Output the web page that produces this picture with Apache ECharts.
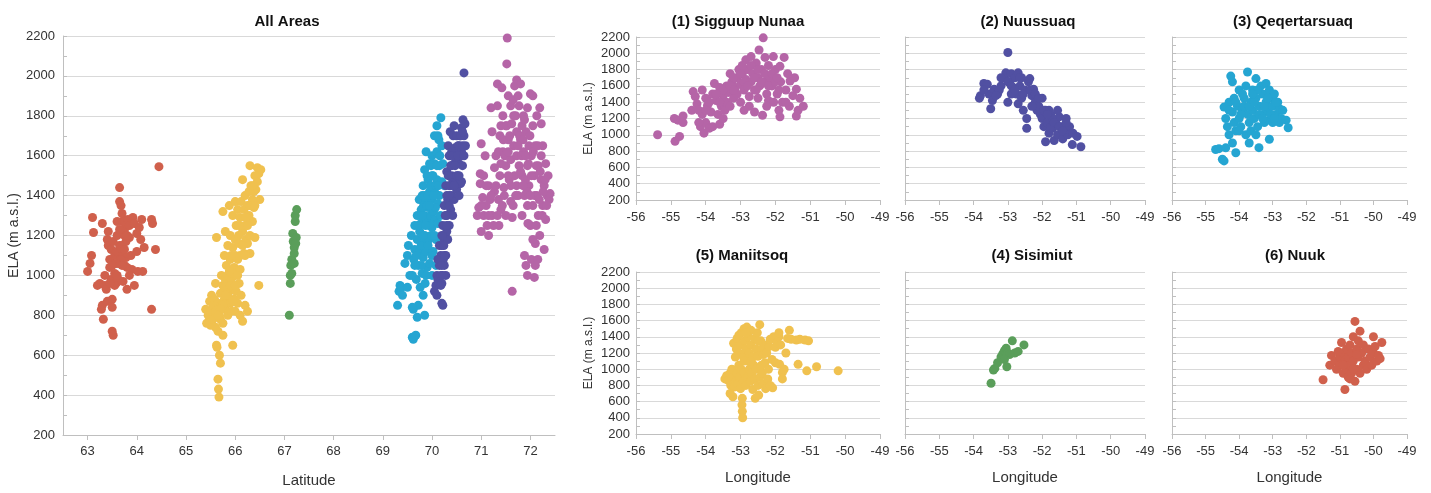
<!DOCTYPE html>
<html><head><meta charset="utf-8">
<script src="https://cdn.jsdelivr.net/npm/echarts/dist/echarts.min.js"></script>
<style>html,body{margin:0;padding:0;background:#fff}#c{width:1431px;height:493px}</style>
</head><body><div id="c"></div>
<script>
// ---------- tick labels ----------
const latTicks = [63, 64, 65, 66, 67, 68, 69, 70, 71, 72];
const titles = ['All Areas', '(1) Sigguup Nunaa', '(2) Nuussuaq', '(3) Qeqertarsuaq', '(5) Maniitsoq', '(4) Sisimiut', '(6) Nuuk'];

// ---------- Latitude vs ELA (All Areas) ----------
const nuukLat = [[63.0,1020],[63.05,1060],[63.08,1100],[63.1,1290],[63.12,1215],[63.2,950],[63.25,960],[63.28,830],[63.3,850],[63.32,780],[63.35,1000],[63.35,950],[63.38,930],[63.4,1180],[63.42,1220],[63.42,1150],[63.45,1080],[63.45,1040],[63.48,1130],[63.48,980],[63.5,880],[63.5,840],[63.5,720],[63.52,700],[63.52,1170],[63.55,1100],[63.55,1010],[63.58,960],[63.6,1120],[63.6,1270],[63.62,1060],[63.62,980],[63.65,1440],[63.65,1370],[63.68,1350],[63.7,1310],[63.7,1270],[63.7,1150],[63.72,1100],[63.72,970],[63.75,1270],[63.75,1230],[63.75,1200],[63.78,1170],[63.78,1090],[63.8,1040],[63.8,930],[63.82,1280],[63.85,1250],[63.85,1190],[63.88,1100],[63.9,1030],[63.92,1290],[63.95,1260],[63.95,950],[64.0,1210],[64.0,1120],[64.02,1020],[64.05,1240],[64.08,1180],[64.1,1280],[64.12,1020],[64.15,1140],[64.3,1280],[64.32,1260],[64.3,830],[64.38,1130],[64.45,1545],[63.3,1260],[63.6,1200],[63.65,1230],[63.68,1080],[63.75,1050],[63.55,950],[63.6,1000],[63.65,1150],[63.7,1050],[63.75,1130],[63.8,1200],[63.58,1060],[63.5,1050],[63.45,960],[63.85,1000],[63.4,870]];
const maniitsoqLat = [[65.40,830],[65.42,760],[65.45,800],[65.48,870],[65.5,820],[65.5,750],[65.52,900],[65.55,780],[65.55,850],[65.58,880],[65.6,820],[65.6,960],[65.62,1190],[65.62,650],[65.63,640],[65.65,860],[65.65,720],[65.65,480],[65.66,430],[65.67,390],[65.68,600],[65.7,560],[65.7,780],[65.7,910],[65.72,1000],[65.72,850],[65.75,950],[65.75,1320],[65.75,760],[65.78,1100],[65.78,880],[65.8,1220],[65.8,980],[65.8,830],[65.82,1050],[65.82,900],[65.85,1150],[65.85,1000],[65.85,800],[65.88,1350],[65.88,920],[65.9,1200],[65.9,1080],[65.9,860],[65.92,980],[65.92,820],[65.95,1300],[65.95,1140],[65.95,940],[65.95,650],[65.98,1040],[65.98,880],[66.0,1370],[66.0,1180],[66.0,1000],[66.0,820],[66.02,1250],[66.02,920],[66.05,1330],[66.05,1080],[66.05,860],[66.08,1160],[66.08,960],[66.1,1290],[66.1,1030],[66.1,800],[66.12,1370],[66.12,900],[66.15,1480],[66.15,1220],[66.15,770],[66.18,1330],[66.18,1110],[66.2,1400],[66.2,1250],[66.2,850],[66.22,1180],[66.25,1350],[66.25,1160],[66.25,820],[66.28,1420],[66.28,1300],[66.3,1550],[66.3,1200],[66.3,1110],[66.32,1450],[66.35,1380],[66.35,1270],[66.38,1420],[66.38,1340],[66.4,1500],[66.4,1190],[66.42,1430],[66.45,1540],[66.45,1470],[66.48,1510],[66.48,950],[66.5,1380],[66.52,1530],[65.6,740],[65.75,700],[65.95,1010],[66.07,1200],[66.22,1290],[65.88,1020],[65.68,800],[65.78,940],[65.85,900],[65.9,950],[65.95,870],[66.0,950],[66.05,1000],[66.1,1100],[66.15,1150],[66.2,1100],[66.25,1250],[66.3,1350],[65.8,900],[65.75,850],[65.7,830],[65.65,800],[66.35,1450],[66.4,1350],[66.0,1100],[65.92,1100],[66.08,1250]];
const sisimiutLat = [[67.1,800],[67.12,960],[67.12,1000],[67.13,1050],[67.15,1080],[67.15,1010],[67.17,1210],[67.18,1170],[67.2,1140],[67.2,1110],[67.22,1270],[67.22,1300],[67.25,1330],[67.24,1190],[67.23,1160],[67.2,1060]];
const qeqertarsuaqLat = [[69.3,850],[69.33,920],[69.35,950],[69.38,940],[69.4,900],[69.45,1060],[69.5,1100],[69.52,1150],[69.55,1000],[69.58,1200],[69.6,690],[69.62,680],[69.62,830],[69.63,1080],[69.65,1250],[69.65,1130],[69.67,700],[69.68,980],[69.7,1180],[69.7,1300],[69.7,790],[69.72,850],[69.72,1050],[69.74,1380],[69.75,1220],[69.75,1120],[69.76,940],[69.78,1330],[69.78,1260],[69.8,1400],[69.8,1160],[69.8,1010],[69.82,1450],[69.82,1090],[69.84,1300],[69.85,1530],[69.85,1200],[69.86,960],[69.88,1620],[69.88,1380],[69.88,1120],[69.9,1270],[69.9,1040],[69.92,1480],[69.92,1340],[69.93,1180],[69.95,1560],[69.95,1420],[69.95,1060],[69.97,1300],[69.98,1200],[70.0,1600],[70.0,1380],[70.0,1240],[70.0,1000],[70.02,1500],[70.02,1120],[70.03,1320],[70.05,1700],[70.05,1560],[70.05,1420],[70.06,1280],[70.08,1180],[70.08,1050],[70.1,1750],[70.1,1620],[70.1,1480],[70.12,1360],[70.12,1260],[70.14,1680],[70.15,1550],[70.15,1400],[70.17,1300],[70.18,1790],[70.2,1650],[70.2,1470],[70.22,1560],[70.25,1450],[69.85,800],[69.6,840],[69.5,940],[69.78,1150],[69.98,1450],[70.07,1340],[69.9,1500],[70.0,1100],[69.95,1250],[69.83,1350],[70.12,1700],[69.72,1250],[69.75,1300],[69.8,1300],[69.82,1200],[69.85,1400],[69.87,1250],[69.9,1350],[69.92,1400],[69.95,1350],[69.98,1550],[70.0,1500],[70.03,1400],[70.05,1200],[70.08,1450],[70.1,1550],[70.13,1450],[70.16,1600],[69.78,1050],[69.82,900],[69.88,1000],[69.92,1150],[69.68,1100],[69.6,1000],[69.65,1050]];
const nuussuaqLat = [[70.05,920],[70.08,950],[70.1,1000],[70.1,900],[70.12,980],[70.15,1050],[70.15,960],[70.18,1100],[70.18,1000],[70.2,860],[70.22,850],[70.2,1150],[70.22,1250],[70.23,1080],[70.25,1180],[70.25,1350],[70.27,1200],[70.28,1450],[70.28,1100],[70.3,1300],[70.3,1520],[70.32,1380],[70.32,1180],[70.33,1650],[70.35,1250],[70.35,1450],[70.37,1720],[70.38,1550],[70.38,1330],[70.4,1400],[70.4,1620],[70.42,1480],[70.43,1700],[70.45,1560],[70.45,1380],[70.47,1640],[70.48,1480],[70.5,1430],[70.5,1600],[70.52,1500],[70.53,1650],[70.55,1400],[70.55,1560],[70.57,1700],[70.58,1460],[70.6,1620],[70.6,1740],[70.62,1550],[70.63,1780],[70.65,1700],[70.65,2015],[70.67,1760],[70.68,1650],[70.6,1470],[70.2,960],[70.25,1050],[70.3,1220],[70.35,1600],[70.42,1300],[70.5,1700],[70.58,1600],[70.15,1150],[70.28,1000],[70.4,1500],[70.45,1750],[70.2,1200],[70.12,1080],[70.22,1000],[70.25,1100],[70.27,1300],[70.3,1400],[70.33,1500],[70.35,1350],[70.38,1450],[70.4,1550],[70.43,1600],[70.47,1550],[70.5,1500],[70.52,1600],[70.55,1650],[70.58,1700],[70.62,1650],[70.65,1600],[70.18,950],[70.2,1050],[70.24,1150],[70.3,1250],[70.35,1400],[70.45,1450],[70.55,1500],[70.62,1720]];
const sigguupLat = [[70.92,1300],[70.95,1340],[70.98,1460],[70.98,1510],[71.0,1220],[71.0,1660],[71.03,1390],[71.05,1300],[71.1,1350],[71.12,1250],[71.15,1200],[71.15,1450],[71.18,1380],[71.2,1840],[71.22,1720],[71.22,1300],[71.27,1540],[71.27,1420],[71.3,1600],[71.33,1960],[71.33,1850],[71.35,1380],[71.38,1700],[71.38,1500],[71.42,1940],[71.4,1330],[71.44,1800],[71.44,1620],[71.46,1440],[71.5,1750],[71.5,1550],[71.52,2060],[71.53,2230],[71.53,2190],[71.55,1900],[71.55,1680],[71.57,1480],[71.6,1580],[71.6,1370],[71.63,920],[71.63,1290],[71.66,1800],[71.66,1650],[71.68,1950],[71.68,1500],[71.72,1980],[71.72,1720],[71.72,1600],[71.75,1400],[71.77,1850],[71.77,1550],[71.8,1960],[71.8,1680],[71.83,1500],[71.83,1300],[71.86,1800],[71.86,1620],[71.88,1400],[71.88,1100],[71.91,1720],[71.91,1050],[71.94,1550],[71.94,1000],[71.94,1840],[71.97,1650],[71.97,1450],[72.0,1910],[72.0,1250],[72.02,1080],[72.02,1600],[72.05,1750],[72.05,1350],[72.08,1500],[72.08,990],[72.1,1650],[72.1,1160],[72.13,1800],[72.13,1400],[72.16,1550],[72.16,1300],[72.19,1840],[72.19,1200],[72.22,1480],[72.22,1760],[72.25,1650],[72.25,1350],[72.28,1450],[72.28,1130],[72.31,1560],[72.31,1280],[72.34,1400],[72.36,1500],[72.38,1380],[72.4,1410],[71.6,1850],[71.5,1300],[71.83,1750],[72.05,1900],[72.1,1050],[71.72,1450],[71.94,1350],[72.22,1600],[71.35,1620],[71.4,1750],[71.45,1680],[71.48,1600],[71.52,1750],[71.55,1620],[71.58,1700],[71.62,1760],[71.65,1880],[71.7,1800],[71.75,1900],[71.78,1700],[71.82,1600],[71.85,1680],[71.88,1780],[71.9,1480],[71.93,1420],[71.96,1560],[71.99,1700],[72.02,1500],[72.06,1620],[72.09,1400],[72.12,1550],[72.15,1650],[72.18,1380],[72.2,1520],[72.24,1300],[72.26,1420],[72.3,1480],[72.33,1350],[71.3,1450],[71.33,1300],[71.36,1250],[71.4,1560],[71.43,1350],[71.47,1400],[71.55,1500],[71.6,1450],[71.65,1350],[71.7,1400],[71.75,1650],[71.8,1520],[71.85,1450],[71.9,1600],[71.95,1260],[72.0,1400],[72.05,1180],[72.12,1250],[72.15,1080],[71.1,1450],[71.05,1500],[71.0,1350],[71.15,1300],[71.2,1400],[71.25,1250],[71.08,1600]];

// ---------- Longitude vs ELA (per area) ----------
const sigguupLon = [[-55.38,1000],[-54.88,920],[-54.9,1200],[-54.8,1180],[-54.75,980],[-54.65,1230],[-54.65,1150],[-54.4,1300],[-54.36,1530],[-54.3,1470],[-54.25,1380],[-54.2,1300],[-54.15,1100],[-54.1,1550],[-54.1,1250],[-54.05,1020],[-54.0,1450],[-54.0,1150],[-53.95,1360],[-53.9,1080],[-53.85,1280],[-53.8,1500],[-53.8,1100],[-53.75,1630],[-53.7,1420],[-53.65,1250],[-53.6,1580],[-53.6,1130],[-53.55,1350],[-53.5,1480],[-53.45,1300],[-53.4,1600],[-53.4,1400],[-53.35,1520],[-53.3,1750],[-53.3,1350],[-53.25,1650],[-53.2,1450],[-53.15,1580],[-53.1,1700],[-53.1,1500],[-53.05,1800],[-53.0,1620],[-53.0,1400],[-52.95,1750],[-52.9,1550],[-52.85,1920],[-52.85,1680],[-52.8,1800],[-52.75,1470],[-52.75,1350],[-52.7,1960],[-52.7,1650],[-52.65,1750],[-52.6,1550],[-52.6,1280],[-52.55,1880],[-52.5,1700],[-52.47,2040],[-52.45,1600],[-52.4,1800],[-52.37,2230],[-52.35,2190],[-52.37,1240],[-52.3,1950],[-52.3,1650],[-52.25,1500],[-52.2,1850],[-52.2,1420],[-52.15,1700],[-52.1,1600],[-52.06,1960],[-52.05,1400],[-52.0,1800],[-51.95,1500],[-51.9,1300],[-51.87,1840],[-51.87,1220],[-51.85,1650],[-51.8,1400],[-51.75,1950],[-51.7,1550],[-51.65,1750],[-51.6,1350],[-51.58,1660],[-51.5,1480],[-51.45,1700],[-51.4,1230],[-51.4,1560],[-51.35,1300],[-51.3,1450],[-51.2,1350],[-53.5,1200],[-52.9,1300],[-52.5,1450],[-53.2,1700],[-53.5,1550],[-53.3,1600],[-53.2,1550],[-53.0,1750],[-52.9,1650],[-52.8,1600],[-52.7,1850],[-52.6,1700],[-52.5,1800],[-52.4,1650],[-52.3,1750],[-52.2,1600],[-52.1,1750],[-52.0,1650],[-51.9,1550],[-53.7,1500],[-53.9,1400],[-54.2,1150],[-54.0,1300],[-53.6,1400],[-52.95,1850],[-52.55,1550],[-52.25,1350],[-51.95,1700],[-51.7,1400]];
const nuussuaqLon = [[-53.83,1450],[-53.8,1480],[-53.7,1630],[-53.6,1620],[-53.55,1500],[-53.5,1320],[-53.45,1420],[-53.4,1560],[-53.3,1500],[-53.2,1600],[-53.1,1700],[-53.06,1760],[-53.0,2010],[-53.0,1400],[-52.95,1650],[-52.9,1750],[-52.85,1580],[-52.8,1700],[-52.75,1500],[-52.7,1760],[-52.7,1380],[-52.65,1600],[-52.6,1450],[-52.55,1300],[-52.5,1550],[-52.45,1080],[-52.45,1200],[-52.4,1650],[-52.36,1690],[-52.3,1480],[-52.25,1560],[-52.2,1400],[-52.15,1300],[-52.1,1350],[-52.05,1250],[-52.0,1200],[-51.95,1100],[-51.9,915],[-51.9,1300],[-51.85,1150],[-51.8,1020],[-51.75,1250],[-51.7,1080],[-51.65,930],[-51.6,1150],[-51.55,1000],[-51.5,1220],[-51.45,1100],[-51.4,950],[-51.35,1050],[-51.3,1200],[-51.25,1000],[-51.2,1100],[-51.12,880],[-51.1,1020],[-50.98,980],[-50.87,854],[-52.0,1450],[-51.7,1200],[-51.55,1300],[-52.3,1350],[-52.6,1700],[-53.25,1550],[-52.9,1500],[-51.8,1300],[-53.2,1700],[-53.0,1650],[-52.9,1600],[-52.8,1550],[-52.65,1700],[-52.55,1500],[-52.35,1550],[-52.2,1500],[-52.1,1450],[-51.95,1300],[-51.85,1250],[-51.75,1100],[-51.65,1150],[-51.5,1100],[-51.4,1050],[-51.3,1150],[-53.35,1480],[-53.7,1550]];
const qeqertarsuaqLon = [[-54.7,820],[-54.6,830],[-54.5,700],[-54.45,680],[-54.4,840],[-54.45,1340],[-54.4,1200],[-54.35,1100],[-54.3,1400],[-54.3,1000],[-54.25,1720],[-54.2,1280],[-54.2,1650],[-54.15,1150],[-54.15,1450],[-54.1,780],[-54.1,1050],[-54.05,1350],[-54.0,1550],[-54.0,1200],[-53.95,1100],[-53.9,1300],[-53.85,1450],[-53.8,1000],[-53.8,1600],[-53.75,1770],[-53.75,1250],[-53.7,1150],[-53.65,1400],[-53.65,1050],[-53.6,1550],[-53.6,1300],[-53.55,1200],[-53.5,1690],[-53.5,1450],[-53.45,1100],[-53.41,842],[-53.4,1350],[-53.35,1600],[-53.3,1250],[-53.3,1500],[-53.25,1150],[-53.2,1630],[-53.2,1400],[-53.15,1300],[-53.1,945],[-53.1,1550],[-53.1,1180],[-53.05,1450],[-53.0,1350],[-53.0,1150],[-52.95,1500],[-52.9,1250],[-52.85,1400],[-52.8,1320],[-52.8,1150],[-52.75,1200],[-52.7,1300],[-52.6,1180],[-52.54,1087],[-53.7,900],[-53.9,1500],[-54.2,900],[-53.5,1000],[-54.3,1300],[-54.1,1400],[-53.95,1250],[-53.85,1350],[-53.7,1350],[-53.55,1400],[-53.45,1550],[-53.4,1250],[-53.25,1350],[-53.15,1450],[-53.05,1250],[-52.9,1400],[-54.0,1050],[-53.6,1500],[-53.3,1200],[-52.95,1200]];
const maniitsoqLon = [[-53.45,880],[-53.4,920],[-53.35,860],[-53.3,950],[-53.28,800],[-53.25,1000],[-53.22,660],[-53.2,900],[-53.2,1320],[-53.18,780],[-53.15,1150],[-53.15,850],[-53.12,1250],[-53.1,950],[-53.1,1380],[-53.08,820],[-53.05,1050],[-53.05,1200],[-53.02,900],[-53.0,1300],[-53.0,760],[-52.98,1450],[-52.98,1000],[-52.96,560],[-52.95,640],[-52.95,480],[-52.94,400],[-52.92,850],[-52.92,1150],[-52.9,1500],[-52.9,960],[-52.88,1350],[-52.85,1250],[-52.85,800],[-52.82,1520],[-52.8,1100],[-52.8,900],[-52.78,1400],[-52.75,1200],[-52.75,1000],[-52.72,850],[-52.7,1480],[-52.7,1300],[-52.68,950],[-52.65,1150],[-52.65,750],[-52.62,1050],[-52.6,1380],[-52.6,880],[-52.58,640],[-52.55,1250],[-52.55,1000],[-52.52,1450],[-52.5,1160],[-52.5,800],[-52.48,680],[-52.45,1550],[-52.45,900],[-52.42,1350],[-52.4,1050],[-52.4,1250],[-52.38,950],[-52.35,1180],[-52.35,820],[-52.3,1300],[-52.3,1080],[-52.28,760],[-52.25,1200],[-52.22,880],[-52.2,1000],[-52.18,1280],[-52.15,1370],[-52.15,800],[-52.1,1120],[-52.08,770],[-52.05,1400],[-52.0,1270],[-52.0,1080],[-51.95,1330],[-51.9,1400],[-51.9,1450],[-51.88,1060],[-51.85,1300],[-51.8,960],[-51.8,880],[-51.75,1000],[-51.7,1200],[-51.65,1380],[-51.6,1480],[-51.55,1370],[-51.4,1360],[-51.35,1060],[-51.3,1370],[-51.15,1360],[-51.05,1350],[-51.1,980],[-50.82,1030],[-50.2,980],[-53.3,700],[-52.9,1100],[-52.7,1100],[-52.5,1350],[-53.05,1420],[-52.85,1450]];
const sisimiutLon = [[-53.49,826],[-53.42,990],[-53.38,1010],[-53.3,1080],[-53.2,1150],[-53.15,1190],[-53.1,1230],[-53.05,1260],[-53.03,1030],[-53.0,1200],[-52.95,1180],[-52.87,1350],[-52.8,1200],[-52.7,1220],[-52.53,1300],[-53.1,1120]];
const nuukLon = [[-51.5,870],[-51.3,1050],[-51.25,1170],[-51.15,1100],[-51.1,1000],[-51.0,1150],[-51.0,1050],[-50.95,1330],[-50.9,950],[-50.9,1200],[-50.85,750],[-50.85,1100],[-50.8,1250],[-50.8,1000],[-50.75,900],[-50.75,1150],[-50.7,1050],[-50.7,1300],[-50.65,1200],[-50.65,950],[-50.6,1400],[-50.6,1100],[-50.55,1590],[-50.55,850],[-50.5,1250],[-50.5,1000],[-50.45,1350],[-50.45,1150],[-50.4,1470],[-50.4,950],[-50.35,1200],[-50.3,1050],[-50.3,1300],[-50.25,1100],[-50.2,1000],[-50.15,1250],[-50.1,1150],[-50.05,1050],[-50.0,1400],[-50.0,1200],[-49.95,1280],[-49.9,1100],[-49.85,1170],[-49.8,1130],[-49.75,1330],[-50.6,1000],[-50.7,880],[-50.5,1180],[-50.9,1050],[-51.05,1220]];

// ---------- styling ----------
const RED = '#d0604c', YELLOW = '#f0c14f', GREEN = '#5a9e5a', CYAN = '#25a5d2', PURPLE = '#5150a2', PINK = '#b565a7';
const FONT = "'Liberation Sans', Arial, sans-serif";
const GRID_C = '#d9d9d9', AXIS_C = '#bfbfbf', TXT = '#333';
const plain = v => String(v);

const chart = echarts.init(document.getElementById('c'));

const grids = [{left: 63, top: 36, width: 492, height: 400}];
const colL = [636, 905, 1172], colW = [244, 240, 235];
const rowT = [37, 272], rowH = [163, 162];
const small = [
  {t: titles[1], d: sigguupLon, c: PINK, col: 0, row: 0, tx: 733},
  {t: titles[2], d: nuussuaqLon, c: PURPLE, col: 1, row: 0, tx: 1023},
  {t: titles[3], d: qeqertarsuaqLon, c: CYAN, col: 2, row: 0, tx: 1288},
  {t: titles[4], d: maniitsoqLon, c: YELLOW, col: 0, row: 1, tx: 737},
  {t: titles[5], d: sisimiutLon, c: GREEN, col: 1, row: 1, tx: 1027},
  {t: titles[6], d: nuukLon, c: RED, col: 2, row: 1, tx: 1290}
];
small.forEach(p => grids.push({left: colL[p.col], top: rowT[p.row], width: colW[p.col], height: rowH[p.row]}));

const titleStyle = {fontFamily: FONT, fontSize: 15, fontWeight: 'bold', color: '#111'};
const titleArr = [{text: titles[0], left: 282, top: 9, textAlign: 'center', textStyle: titleStyle}];
small.forEach(p => titleArr.push({text: p.t, left: p.tx, top: p.row ? 243 : 9, textAlign: 'center', textStyle: titleStyle}));

function yAxis(i, showLabel, showName, fs, gap) {
  return {
    type: 'value', gridIndex: i, min: 200, max: 2200, interval: 200,
    name: showName ? 'ELA (m a.s.l.)' : '', nameLocation: 'middle', nameGap: gap, nameMoveOverlap: false,
    nameTextStyle: {fontFamily: FONT, fontSize: fs, color: TXT},
    axisLine: {show: true, lineStyle: {color: AXIS_C}},
    axisTick: {show: true, inside: true, length: 4, lineStyle: {color: AXIS_C}},
    minorTick: {show: true, splitNumber: 2, length: 4, lineStyle: {color: AXIS_C}},
    axisLabel: {show: showLabel, fontFamily: FONT, fontSize: 13, color: TXT, margin: i === 0 ? 8 : 6, formatter: plain},
    splitLine: {show: true, lineStyle: {color: GRID_C}}
  };
}

const xAxes = [{
  type: 'value', gridIndex: 0, min: 62.5, max: 72.5,
  name: 'Latitude', nameLocation: 'middle', nameGap: 38, nameMoveOverlap: false,
  nameTextStyle: {fontFamily: FONT, fontSize: 15, color: TXT},
  axisLine: {show: true, lineStyle: {color: AXIS_C}},
  axisTick: {show: true, length: 5, customValues: latTicks, lineStyle: {color: AXIS_C}},
  axisLabel: {fontFamily: FONT, fontSize: 13, color: TXT, margin: 10, customValues: latTicks, formatter: plain},
  splitLine: {show: false}
}];
const yAxes = [yAxis(0, true, true, 14, 42)];
small.forEach((p, k) => {
  const i = k + 1;
  xAxes.push({
    type: 'value', gridIndex: i, min: -56, max: -49, interval: 1,
    name: p.row ? 'Longitude' : '', nameLocation: 'middle', nameGap: 36, nameMoveOverlap: false,
    nameTextStyle: {fontFamily: FONT, fontSize: 15, color: TXT},
    axisLine: {show: true, lineStyle: {color: AXIS_C}},
    axisTick: {show: true, length: 5, lineStyle: {color: AXIS_C}},
    axisLabel: {fontFamily: FONT, fontSize: 13, color: TXT, margin: 11, showMinLabel: true, showMaxLabel: true, formatter: plain},
    splitLine: {show: false}
  });
  yAxes.push(yAxis(i, p.col === 0, p.col === 0, 12, 41));
});

const sc = (data, color, i) => ({type: 'scatter', xAxisIndex: i, yAxisIndex: i, data, symbolSize: 9,
  itemStyle: {color, opacity: 1}, silent: true});

const series = [
  sc(nuukLat, RED, 0), sc(maniitsoqLat, YELLOW, 0), sc(sisimiutLat, GREEN, 0),
  sc(qeqertarsuaqLat, CYAN, 0), sc(nuussuaqLat, PURPLE, 0), sc(sigguupLat, PINK, 0)
];
small.forEach((p, k) => series.push(sc(p.d, p.c, k + 1)));

chart.setOption({
  animation: false, backgroundColor: '#fff',
  title: titleArr, grid: grids, xAxis: xAxes, yAxis: yAxes, series
});
</script></body></html>
